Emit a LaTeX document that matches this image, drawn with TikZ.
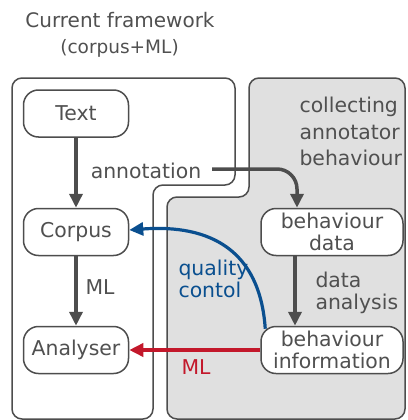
\documentclass[tikz,border=0pt]{standalone}
\usepackage{fontspec}
\setmainfont{DejaVu Sans}
\usetikzlibrary{arrows.meta}
\definecolor{ink}{HTML}{505050}
\definecolor{edge}{HTML}{4D4D4D}
\definecolor{panel}{HTML}{E0E0E0}
\definecolor{qcblue}{HTML}{0A4F8F}
\definecolor{mlred}{HTML}{C3182B}

\begin{document}
\begin{tikzpicture}[x=1pt,y=-1pt,
  every node/.style={text=ink, font=\fontsize{20.4}{21.5}\selectfont},
  stage/.style={draw=edge, line width=1.5pt, fill=white, rounded corners=15pt,
                minimum height=47pt, align=center, inner sep=0pt},
  tip/.style={-{Triangle[length=14pt,width=13pt]}},
  flow/.style={draw=edge, line width=3.5pt, tip},
  qc/.style={draw=qcblue, line width=3.2pt, tip},
  mlflow/.style={draw=mlred, line width=3.5pt, tip},
  region/.style={draw=edge, line width=1.5pt, rounded corners=10pt}]
\useasboundingbox (0,0) rectangle (407,420);

% grey panel: collecting annotator behaviour
\path[region, fill=panel] (320,78) -- (405,78) -- (405,419) -- (167,419)
  -- (167,197) -- (249,197) -- (249,78) -- cycle;
% white panel: current framework
\path[region] (120,78) -- (235,78) -- (235,185) -- (153,185) -- (153,419)
  -- (12,419) -- (12,78) -- cycle;

% headings
\node (title) at (120,20) {\fontsize{20}{22}\selectfont Current framework};
\node (subtitle) at (119.5,48) {\fontsize{18.5}{20}\selectfont (corpus+ML)};
\node[align=left, anchor=west, font=\fontsize{20.4}{26.5}\selectfont] (collect)
  at (296,131.5) {collecting\\annotator\\behaviour};

% stages
\node[stage, minimum width=105pt] (text) at (76,113.5) {Text};
\node[stage, minimum width=105pt] (corpus) at (76,232) {Corpus};
\node[stage, minimum width=105pt] (analyser) at (76,350) {Analyser};
\node[stage, minimum width=142pt] (bdata) at (332,232) {behaviour\\data};
\node[stage, minimum width=142pt] (binfo) at (332,350) {behaviour\\information};

% current framework flow
\draw[flow] (text) -- (corpus);
\draw[flow] (corpus) -- (analyser);
\node (mllabel) at (100,287) {ML};

% annotation into behaviour data
\node (annot) at (146,171) {annotation};
\coordinate (astart) at (212,169);
\draw[flow, rounded corners=20pt] (astart) -| ([xshift=-35pt]bdata.north);

% data analysis
\draw[flow] ([xshift=-37pt]bdata.south) -- ([xshift=-37pt]binfo.north);
\node[align=left, anchor=west] (analysis) at (312,293) {data\\analysis};

% quality control feedback
\draw[qc] ([shift={(5pt,-3pt)}]binfo.north west)
  .. controls (260,250) and (210,224) .. ([yshift=2pt]corpus.east);
\node[align=left, anchor=west, text=qcblue] (qclabel) at (175,279) {quality\\contol};

% ML from behaviour information
\draw[mlflow] (binfo.west) -- (analyser.east);
\node[text=mlred] (mlred) at (196,367) {ML};
\end{tikzpicture}
\end{document}
